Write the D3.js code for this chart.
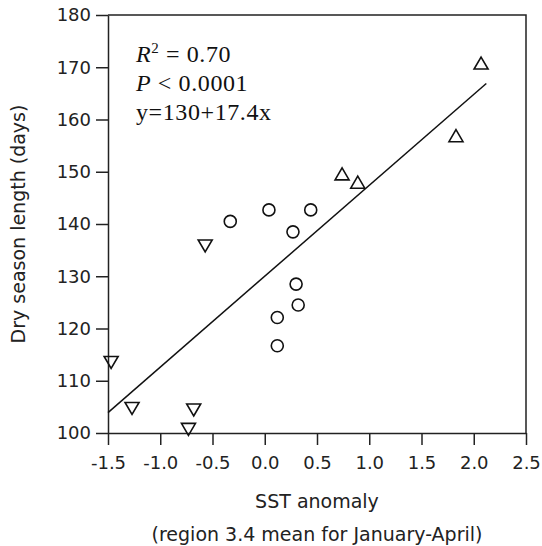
<!DOCTYPE html>
<html>
<head>
<meta charset="utf-8">
<script src="https://cdn.jsdelivr.net/npm/d3@7"></script>
<style>
  html, body { margin: 0; padding: 0; background: #fff; }
  svg { display: block; }
</style>
</head>
<body>
<svg id="chart" width="542" height="546"></svg>
<script>
// Data
const circleX = [-0.33, 0.04, 0.44, 0.27, 0.30, 0.32, 0.12, 0.12];
const circleY = [140.5, 142.7, 142.7, 138.5, 128.5, 124.5, 122.1, 116.7];
const upTriX = [0.74, 0.89, 1.83, 2.07];
const upTriY = [149.6, 148.0, 156.9, 170.8];
const downTriX = [-1.47, -1.27, -0.73, -0.68, -0.57];
const downTriY = [113.5, 104.7, 100.7, 104.4, 135.8];
const xTicks = [-1.5, -1.0, -0.5, 0.0, 0.5, 1.0, 1.5, 2.0, 2.5];
const yTicks = [100, 110, 120, 130, 140, 150, 160, 170, 180];
const fitIntercept = 130, fitSlope = 17.4;
const fitRange = [-1.5, 2.12];
const statLines = ["R2 = 0.70", "P < 0.0001", "y=130+17.4x"];
const xTitle = ["SST anomaly", "(region 3.4 mean for January-April)"];
const yTitle = "Dry season length (days)";

const svg = d3.select("#chart");
const m = { left: 108, right: 526, top: 15, bottom: 433 };
const x = d3.scaleLinear().domain([-1.5, 2.5]).range([m.left, m.right]);
const y = d3.scaleLinear().domain([100, 180]).range([m.bottom, m.top]);
const axisColor = "#222";
const sans = "'DejaVu Sans', sans-serif";

// Frame (top and right)
svg.append("path")
  .attr("d", `M${m.left},${m.top}H${m.right}V${m.bottom}`)
  .attr("fill", "none").attr("stroke", axisColor).attr("stroke-width", 1.5);

// Axes
const xAxis = svg.append("g").attr("transform", `translate(0,${m.bottom})`)
  .call(d3.axisBottom(x).tickValues(xTicks).tickSize(12).tickSizeOuter(0).tickPadding(11)
    .tickFormat(d => d3.format(".1f")(d).replace("−", "-")));
const yAxis = svg.append("g").attr("transform", `translate(${m.left},0)`)
  .call(d3.axisLeft(y).tickValues(yTicks).tickSize(12).tickSizeOuter(0).tickPadding(5));
[xAxis, yAxis].forEach(g => {
  g.select(".domain").attr("stroke", axisColor).attr("stroke-width", 1.5);
  g.selectAll(".tick line").attr("stroke", axisColor).attr("stroke-width", 1.5);
  g.selectAll(".tick text").attr("fill", "#222").style("font-family", sans).style("font-size", "18px");
});

// Regression line
svg.append("line")
  .attr("x1", x(fitRange[0])).attr("y1", y(fitIntercept + fitSlope * fitRange[0]))
  .attr("x2", x(fitRange[1])).attr("y2", y(fitIntercept + fitSlope * fitRange[1]))
  .attr("stroke", "#111").attr("stroke-width", 1.5);

// Markers
const mk = { fill: "none", stroke: "#111", sw: 1.6 };
svg.append("g").selectAll("circle").data(d3.zip(circleX, circleY)).join("circle")
  .attr("cx", d => x(d[0])).attr("cy", d => y(d[1])).attr("r", 6)
  .attr("fill", mk.fill).attr("stroke", mk.stroke).attr("stroke-width", mk.sw);

const tw = 7, th = 6;
svg.append("g").selectAll("path").data(d3.zip(upTriX, upTriY)).join("path")
  .attr("d", d => { const cx = x(d[0]), cy = y(d[1]);
    return `M${cx},${cy - th}L${cx + tw},${cy + th}L${cx - tw},${cy + th}Z`; })
  .attr("fill", mk.fill).attr("stroke", mk.stroke).attr("stroke-width", mk.sw);
svg.append("g").selectAll("path").data(d3.zip(downTriX, downTriY)).join("path")
  .attr("d", d => { const cx = x(d[0]), cy = y(d[1]);
    return `M${cx},${cy + th}L${cx + tw},${cy - th}L${cx - tw},${cy - th}Z`; })
  .attr("fill", mk.fill).attr("stroke", mk.stroke).attr("stroke-width", mk.sw);

// Stats text
const serif = "'Liberation Serif', 'Times New Roman', serif";
const st = svg.append("g").style("font-family", serif).style("font-size", "24px")
  .style("letter-spacing", "0.6px").attr("fill", "#111");
const t1 = st.append("text").attr("x", 136).attr("y", 61.5);
t1.append("tspan").style("font-style", "italic").text("R");
t1.append("tspan").attr("dy", -9).style("font-size", "15px").text("2");
t1.append("tspan").attr("dy", 9).text(" = 0.70");
const t2 = st.append("text").attr("x", 136).attr("y", 91);
t2.append("tspan").style("font-style", "italic").text("P");
t2.append("tspan").text(" < 0.0001");
st.append("text").attr("x", 136).attr("y", 120).text(statLines[2]);

// Axis titles
svg.append("text").attr("x", (m.left + m.right) / 2).attr("y", 508)
  .attr("text-anchor", "middle").style("font-family", sans).style("font-size", "19px").attr("fill", "#222")
  .text(xTitle[0]);
svg.append("text").attr("x", (m.left + m.right) / 2).attr("y", 541)
  .attr("text-anchor", "middle").style("font-family", sans).style("font-size", "19px").attr("fill", "#222")
  .text(xTitle[1]);
svg.append("text").attr("transform", `translate(25,${(m.top + m.bottom) / 2}) rotate(-90)`)
  .attr("text-anchor", "middle").style("font-family", sans).style("font-size", "19px").attr("fill", "#222")
  .text(yTitle);
</script>
</body>
</html>
